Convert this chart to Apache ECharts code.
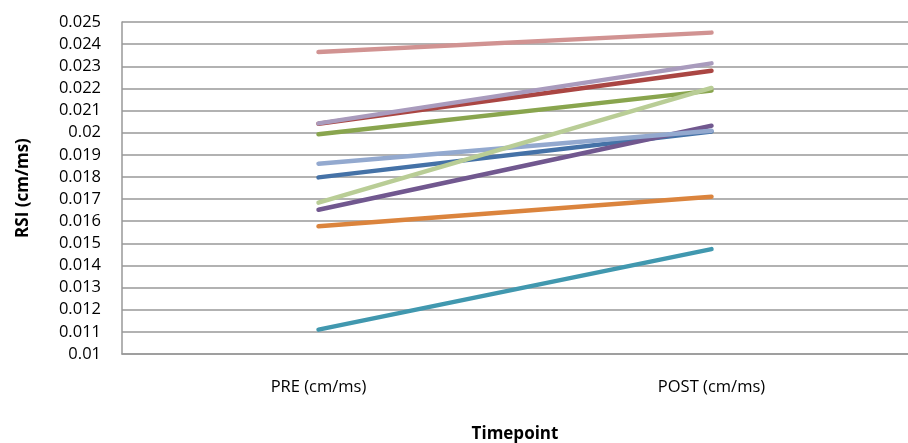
<!DOCTYPE html>
<html>
<head>
<meta charset="utf-8">
<script src="https://cdn.jsdelivr.net/npm/echarts@6/dist/echarts.min.js"></script>
<style>
  html, body { margin: 0; padding: 0; background: #fff; }
  #chart { width: 908px; height: 443px; }
</style>
</head>
<body>
<div id="chart"></div>
<script>
const categories = ['PRE (cm/ms)', 'POST (cm/ms)'];

// one line per subject, Excel series order (later ones drawn on top)
const s1 = [0.01798, 0.02005];
const s2 = [0.02040, 0.02280];
const s3 = [0.01993, 0.02190];
const s4 = [0.01652, 0.02031];
const s5 = [0.01110, 0.01474];
const s6 = [0.01577, 0.01711];
const s7 = [0.01860, 0.02009];
const s8 = [0.02364, 0.02452];
const s9 = [0.01684, 0.02202];
const s10 = [0.02042, 0.02313];

const seriesData = [s1, s2, s3, s4, s5, s6, s7, s8, s9, s10];
const colors = ['#4572A7', '#AA4643', '#89A54E', '#71588F', '#4198AF',
                '#DB843D', '#93A9CF', '#D19392', '#B9CD96', '#A99BBD'];

const font = '"Open Sans", "Noto Sans", sans-serif';
const chart = echarts.init(document.getElementById('chart'));
chart.setOption({
  animation: false,
  grid: { left: 122, right: 0, top: 22, bottom: 89, outerBoundsMode: 'none' },
  xAxis: {
    type: 'category',
    data: categories,
    boundaryGap: true,
    name: 'Timepoint',
    nameLocation: 'middle',
    nameGap: 72,
    nameTextStyle: { fontFamily: font, fontWeight: 'bold', fontSize: 17, color: '#000' },
    axisLine: { lineStyle: { color: '#999', width: 1.5 } },
    axisTick: { show: false },
    axisLabel: { fontFamily: font, fontSize: 16.5, color: '#000', margin: 25 },
    splitLine: { show: false }
  },
  yAxis: {
    type: 'value',
    min: 0.01,
    max: 0.025,
    interval: 0.001,
    name: 'RSI (cm/ms)',
    nameLocation: 'middle',
    nameGap: 90,
    nameRotate: 90,
    nameTextStyle: { fontFamily: font, fontWeight: 'bold', fontSize: 17, color: '#000' },
    axisLine: { show: true, lineStyle: { color: '#999', width: 1.5 } },
    axisTick: { show: false },
    axisLabel: {
      fontFamily: font, fontSize: 16.5, color: '#000', margin: 21,
      formatter: v => String(parseFloat(v.toFixed(3)))
    },
    splitLine: { show: true, lineStyle: { color: '#999', width: 1.5 } }
  },
  series: seriesData.map((d, i) => ({
    type: 'line',
    data: d,
    symbol: 'none',
    lineStyle: { color: colors[i], width: 4.5, cap: 'round' },
    itemStyle: { color: colors[i] },
    z: 2 + i
  }))
});
</script>
</body>
</html>
